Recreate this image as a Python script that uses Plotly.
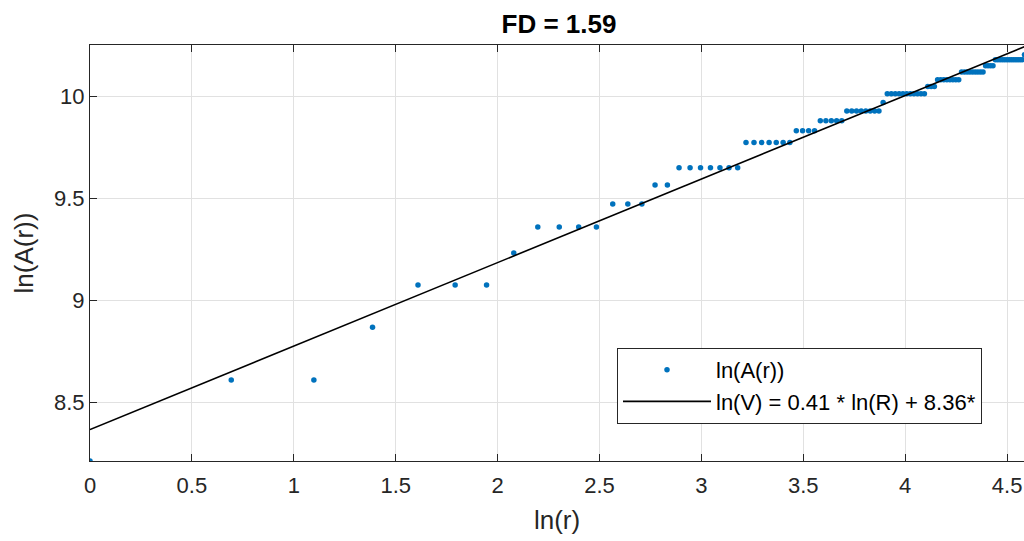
import numpy as np
import plotly.graph_objects as go

# radius values r and ln(A(r))
radius = list(range(1, 101))
lnA = ([8.212] + [8.609] * 2 + [8.869] + [9.076] * 3 + [9.233] + [9.361] * 4 +
       [9.474] * 3 + [9.567] * 2 + [9.651] * 7 + [9.775] * 7 + [9.833] * 4 +
       [9.882] * 5 + [9.930] * 8 + [9.972] + [10.015] * 11 + [10.050] * 3 +
       [10.084] * 8 + [10.121] * 9 + [10.152] * 4 + [10.182] * 13 + [10.206] * 3)

slope = 0.41
intercept = 8.366
fit_x = [0.0, 4.6052]

x_ticks = [0, 0.5, 1, 1.5, 2, 2.5, 3, 3.5, 4, 4.5]
y_ticks = [8.5, 9, 9.5, 10]

ln_r = np.log(np.array(radius, dtype=float))
fit_y = [slope * v + intercept for v in fit_x]

FONT = "Liberation Sans, Arial, Helvetica, sans-serif"
TXT = "#262626"

fig = go.Figure()
fig.add_trace(go.Scatter(
    x=ln_r, y=lnA, mode="markers", name="ln(A(r))",
    marker=dict(color="#0072BD", size=5.5, line=dict(width=0)),
))
fig.add_trace(go.Scatter(
    x=fit_x, y=fit_y, mode="lines",
    name="ln(V) = 0.41 * ln(R) + 8.36*",
    line=dict(color="black", width=1.6),
))

fig.update_layout(
    width=1024, height=541,
    margin=dict(l=90, r=0, t=45, b=80),
    paper_bgcolor="white", plot_bgcolor="white",
    font=dict(family=FONT, color=TXT, size=22),
    title=dict(text="<b>FD = 1.59</b>", x=(90 + 1028) / 2 / 1024, xanchor="center",
               y=1 - 24 / 541, yanchor="middle",
               font=dict(family=FONT, size=26, color="black")),
    showlegend=True,
    legend=dict(x=(617 - 90) / 934, y=(461 - 348) / 416, xanchor="left", yanchor="top",
                bgcolor="white", bordercolor="#262626", borderwidth=1,
                font=dict(family=FONT, size=22, color="black"),
                itemwidth=88, tracegroupgap=0),
)
fig.update_xaxes(
    range=[0, 4.583], tickvals=x_ticks, ticktext=[f"{v:g}" for v in x_ticks],
    tickfont=dict(family=FONT, size=22, color=TXT), ticklabelstandoff=5,
    showgrid=True, gridcolor="#e1e1e1", gridwidth=1,
    showline=True, linecolor=TXT, linewidth=1, mirror="ticks",
    ticks="inside", ticklen=7, tickcolor=TXT, zeroline=False,
    title=dict(text="ln(r)", font=dict(family=FONT, size=26, color=TXT), standoff=13),
)
fig.update_yaxes(
    range=[8.212, 10.254], tickvals=y_ticks, ticktext=[f"{v:g}" for v in y_ticks],
    tickfont=dict(family=FONT, size=22, color=TXT),
    showgrid=True, gridcolor="#e1e1e1", gridwidth=1,
    showline=True, linecolor=TXT, linewidth=1,
    ticks="inside", ticklen=7, tickcolor=TXT, zeroline=False,
    title=dict(text="ln(A(r))", font=dict(family=FONT, size=26, color=TXT), standoff=12),
)

fig.write_html("out.html")
